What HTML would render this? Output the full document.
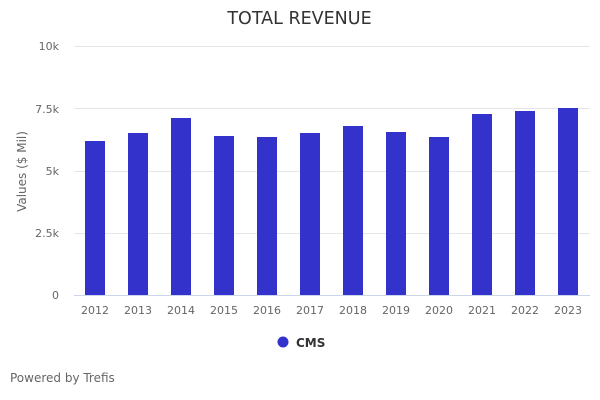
<!DOCTYPE html>
<html><head><meta charset="utf-8"><style>
html,body{margin:0;padding:0;background:#fff;}
svg{display:block;font-family:"DejaVu Sans","Liberation Sans",sans-serif;}
</style></head><body>
<svg width="600" height="400" viewBox="0 0 600 400" xmlns="http://www.w3.org/2000/svg">
<rect width="600" height="400" fill="#fff"/>
<text x="299.5" y="24" text-anchor="middle" font-size="17.5" fill="#333">TOTAL REVENUE</text>
<g stroke="#e6e6e6" stroke-width="1">
<line x1="74" x2="590" y1="46.5" y2="46.5"/>
<line x1="74" x2="590" y1="108.5" y2="108.5"/>
<line x1="74" x2="590" y1="171.5" y2="171.5"/>
<line x1="74" x2="590" y1="233.5" y2="233.5"/>
</g>
<g font-size="11" fill="#666" text-anchor="end">
<text x="59" y="50">10k</text>
<text x="59" y="113">7.5k</text>
<text x="59" y="175">5k</text>
<text x="59" y="237">2.5k</text>
<text x="59" y="299">0</text>
</g>
<text transform="translate(26,171.5) rotate(-90)" text-anchor="middle" font-size="12" fill="#666">Values ($ Mil)</text>
<g fill="#3333cc">
<rect x="85" y="141" width="20" height="154"/>
<rect x="128" y="133" width="20" height="162"/>
<rect x="171" y="118" width="20" height="177"/>
<rect x="214" y="136" width="20" height="159"/>
<rect x="257" y="137" width="20" height="158"/>
<rect x="300" y="133" width="20" height="162"/>
<rect x="343" y="126" width="20" height="169"/>
<rect x="386" y="132" width="20" height="163"/>
<rect x="429" y="137" width="20" height="158"/>
<rect x="472" y="114" width="20" height="181"/>
<rect x="515" y="111" width="20" height="184"/>
<rect x="558" y="108" width="20" height="187"/>
</g>
<line x1="74" x2="590" y1="295.5" y2="295.5" stroke="#ccd6eb" stroke-width="1"/>
<g font-size="11" fill="#666" text-anchor="middle">
<text x="95" y="314">2012</text>
<text x="138" y="314">2013</text>
<text x="181" y="314">2014</text>
<text x="224" y="314">2015</text>
<text x="267" y="314">2016</text>
<text x="310" y="314">2017</text>
<text x="353" y="314">2018</text>
<text x="396" y="314">2019</text>
<text x="439" y="314">2020</text>
<text x="482" y="314">2021</text>
<text x="525" y="314">2022</text>
<text x="568" y="314">2023</text>
</g>
<circle cx="283" cy="342" r="5.5" fill="#3333cc"/>
<text x="296" y="347" font-size="12" font-weight="bold" fill="#333">CMS</text>
<text x="10" y="382" font-size="12" fill="#666">Powered by Trefis</text>
</svg>
</body></html>
